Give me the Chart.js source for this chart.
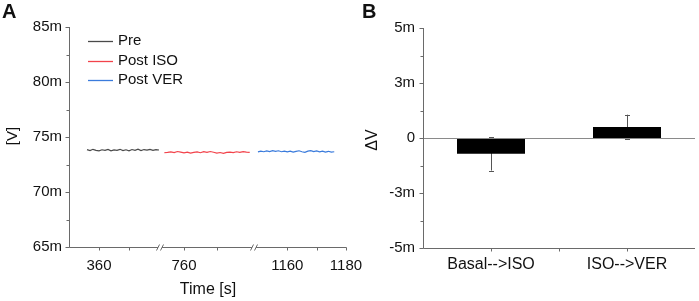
<!DOCTYPE html>
<html><head><meta charset="utf-8">
<script src="https://cdn.jsdelivr.net/npm/chart.js@4.4.1/dist/chart.umd.min.js"></script>
<style>
html,body{margin:0;padding:0;background:#fff;}
body{width:699px;height:301px;overflow:hidden;position:relative;}
#a{position:absolute;left:0;top:0;}
#b{position:absolute;left:360px;top:0;}
</style>
</head><body>
<canvas id="a" width="378" height="301"></canvas>
<canvas id="b" width="339" height="301"></canvas>
<script>
// ---------- Panel A data ----------
const preTime = [356,357,358,359,360,361,362,363,364,365,366,367,368,369,370,371,372,373,374,375,376,377,378,379,380];
const preV = [73.85,73.76,73.88,73.79,73.74,73.84,73.78,73.87,73.75,73.83,73.79,73.88,73.76,73.84,73.74,73.86,73.79,73.89,73.77,73.86,73.80,73.88,73.78,73.85,73.82];
const isoTime = [754,755,756,757,758,759,760,761,762,763,764,765,766,767,768,769,770,771,772,773,774,775,776,777,778,779,780];
const isoV = [73.57,73.60,73.65,73.58,73.68,73.62,73.55,73.62,73.53,73.60,73.65,73.57,73.66,73.60,73.68,73.61,73.54,73.59,73.52,73.60,73.63,73.58,73.66,73.61,73.67,73.62,73.60];
const verTime = [1150,1151,1152,1153,1154,1155,1156,1157,1158,1159,1160,1161,1162,1163,1164,1165,1166,1167,1168,1169,1170,1171,1172,1173,1174,1175,1176];
const verV = [73.65,73.71,73.66,73.74,73.68,73.76,73.69,73.75,73.66,73.72,73.65,73.71,73.62,73.69,73.75,73.66,73.60,73.71,73.76,73.67,73.73,73.65,73.72,73.63,73.70,73.62,73.66];
const seriesLabels = ['Pre','Post ISO','Post VER'];
const xTickLabelsA = [360,760,1160,1180];
const xMinorA = [370,770,1170];
const yTicksA = [65,70,75,80,85];

// ---------- Panel B data ----------
const categories = ['Basal-->ISO','ISO-->VER'];
const deltaMean = [-0.72,0.50];
const deltaErr = [0.76,0.56];
const yTicksB = [-5,-2.5,0,2.5,5];

// broken time axis: each segment maps a time range onto an axis-unit range
const segments = [
  {t0:350,t1:380,u0:0,u1:90},
  {t0:753,t1:781,u0:92,u1:184},
  {t0:1149,t1:1180,u0:186,u1:277}
];
function toU(t){
  for(const s of segments){ if(t>=s.t0-0.001 && t<=s.t1+0.001) return s.u0+(t-s.t0)/(s.t1-s.t0)*(s.u1-s.u0); }
  return NaN;
}
function fromU(u){
  for(const s of segments){ if(u>=s.u0-0.01 && u<=s.u1+0.01) return s.t0+(u-s.u0)/(s.u1-s.u0)*(s.t1-s.t0); }
  return NaN;
}
const breaksU = [ (segments[0].u1+segments[1].u0)/2, (segments[1].u1+segments[2].u0)/2 ];

const FONT = "'Liberation Sans', Arial, sans-serif";
const AXIS = '#6a6a6a';
const TXT = '#111';
const colors = ['#4a4a4a','#f2434b','#3a7bdc'];

function line(ctx,x1,y1,x2,y2){ctx.beginPath();ctx.moveTo(x1,y1);ctx.lineTo(x2,y2);ctx.stroke();}

const decoA = {
  id:'decoA',
  afterDraw(chart){
    const {ctx, chartArea:ca, scales:{x,y}} = chart;
    ctx.save();
    ctx.strokeStyle = AXIS; ctx.lineWidth = 1;
    const L = Math.round(ca.left)+0.5, B = Math.round(ca.bottom)+0.5;
    ctx.beginPath(); ctx.moveTo(L, Math.round(ca.top)); ctx.lineTo(L,B); ctx.lineTo(Math.round(ca.right)+0.5,B); ctx.stroke();
    yTicksA.forEach((v,i)=>{
      const py = Math.round(y.getPixelForValue(v))+0.5; line(ctx,L-4,py,L,py);
      if(i<yTicksA.length-1){ const pm = Math.round(y.getPixelForValue((v+yTicksA[i+1])/2))+0.5; line(ctx,L-3,pm,L,pm); }
    });
    xTickLabelsA.concat(xMinorA).forEach(t=>{
      const px = Math.round(x.getPixelForValue(toU(t)))+0.5; line(ctx,px,B,px,B+3);
    });
    breaksU.forEach(u=>{
      const px = x.getPixelForValue(u);
      ctx.fillStyle='#fff'; ctx.fillRect(px-2,B-1.5,4,3);
      ctx.strokeStyle=AXIS;
      line(ctx,px-3.5,B+3,px-0.5,B-3);
      line(ctx,px+0.5,B+3,px+3.5,B-3);
    });
    // legend
    ctx.font = '15px '+FONT; ctx.textBaseline='middle'; ctx.textAlign='left';
    const ly = [41,61,80];
    seriesLabels.forEach((lab,i)=>{
      ctx.strokeStyle = colors[i]; ctx.lineWidth=1.3;
      line(ctx,88,ly[i]+0.5,113,ly[i]+0.5);
      ctx.fillStyle = TXT; ctx.fillText(lab,118,ly[i]);
    });
    ctx.fillStyle = TXT;
    ctx.font = 'bold 20px '+FONT; ctx.textBaseline='alphabetic'; ctx.fillText('A',2,18);
    ctx.font = '16px '+FONT; ctx.textAlign='center'; ctx.fillText('Time [s]',208,294);
    ctx.save(); ctx.translate(17,136); ctx.rotate(-Math.PI/2);
    ctx.font='15px '+FONT; ctx.textAlign='center'; ctx.textBaseline='alphabetic'; ctx.fillText('[V]',0,0);
    ctx.restore();
    ctx.restore();
  }
};

new Chart(document.getElementById('a'), {
  type:'line',
  data:{
    datasets:[
      {label:seriesLabels[0], data:preTime.map((t,i)=>({x:toU(t),y:preV[i]})), borderColor:colors[0]},
      {label:seriesLabels[1], data:isoTime.map((t,i)=>({x:toU(t),y:isoV[i]})), borderColor:colors[1]},
      {label:seriesLabels[2], data:verTime.map((t,i)=>({x:toU(t),y:verV[i]})), borderColor:colors[2]}
    ]
  },
  options:{
    responsive:false, animation:false, devicePixelRatio:1,
    elements:{line:{borderWidth:1.2,tension:0},point:{radius:0}},
    layout:{padding:{left:0,top:27,right:32,bottom:0}},
    plugins:{legend:{display:false},tooltip:{enabled:false}},
    scales:{
      x:{type:'linear',min:0,max:segments[2].u1,
        grid:{display:false,drawTicks:false}, border:{display:false},
        afterBuildTicks(s){ s.ticks = xTickLabelsA.map(t=>({value:toU(t)})); },
        ticks:{padding:10,color:TXT,font:{family:FONT,size:15},autoSkip:false,maxRotation:0,
          callback:(v)=>String(Math.round(fromU(v)))},
        afterFit(s){ s.height = 54; }
      },
      y:{min:65,max:85,
        grid:{display:false,drawTicks:false}, border:{display:false},
        afterBuildTicks(s){ s.ticks = yTicksA.map(v=>({value:v})); },
        ticks:{padding:7,color:TXT,font:{family:FONT,size:15},callback:(v)=>v+'m'},
        afterFit(s){ s.width = 69; }
      }
    }
  },
  plugins:[decoA]
});

const decoB = {
  id:'decoB',
  beforeDatasetsDraw(chart){
    const {ctx, scales:{y}} = chart;
    ctx.save();
    const meta = chart.getDatasetMeta(0);
    ctx.strokeStyle='#555'; ctx.lineWidth=1;
    meta.data.forEach((el,i)=>{
      const px = Math.round(el.x)+0.5;
      const yHi = y.getPixelForValue(deltaMean[i]+deltaErr[i]);
      const yLo = y.getPixelForValue(deltaMean[i]-deltaErr[i]);
      line(ctx,px,yHi,px,yLo);
      line(ctx,px-2.5,Math.round(yHi)+0.5,px+2.5,Math.round(yHi)+0.5);
      line(ctx,px-2.5,Math.round(yLo)+0.5,px+2.5,Math.round(yLo)+0.5);
    });
    ctx.restore();
  },
  afterDatasetsDraw(chart){
    const {ctx, chartArea:ca, scales:{y}} = chart;
    ctx.save();
    ctx.strokeStyle = '#8a8a8a'; ctx.lineWidth=1;
    const z = Math.round(y.getPixelForValue(0))+0.5;
    line(ctx,ca.left,z,ca.right,z);
    ctx.restore();
  },
  afterDraw(chart){
    const {ctx, chartArea:ca, scales:{x,y}} = chart;
    ctx.save();
    ctx.strokeStyle = AXIS; ctx.lineWidth = 1;
    const L = Math.round(ca.left)+0.5, B = Math.round(ca.bottom)+0.5;
    ctx.beginPath(); ctx.moveTo(L, Math.round(ca.top)); ctx.lineTo(L,B); ctx.lineTo(Math.round(ca.right),B); ctx.stroke();
    yTicksB.forEach((v,i)=>{
      const py = Math.round(y.getPixelForValue(v))+0.5; line(ctx,L-4,py,L,py);
      if(i<yTicksB.length-1){ const pm = Math.round(y.getPixelForValue((v+yTicksB[i+1])/2))+0.5; line(ctx,L-3,pm,L,pm); }
    });
    categories.forEach((c,i)=>{
      const px = Math.round(x.getPixelForValue(i))+0.5; line(ctx,px,B,px,B+3);
      if(i<categories.length-1){ const pm = Math.round(x.getPixelForValue(i+0.5))+0.5; line(ctx,pm,B,pm,B+3); }
    });
    ctx.fillStyle = TXT;
    ctx.font = 'bold 20px '+FONT; ctx.textBaseline='alphabetic'; ctx.textAlign='left'; ctx.fillText('B',2,18);
    ctx.save(); ctx.translate(17,140); ctx.rotate(-Math.PI/2);
    ctx.font='16px '+FONT; ctx.textAlign='center'; ctx.fillText('\u0394V',0,0);
    ctx.restore();
    ctx.restore();
  }
};

new Chart(document.getElementById('b'), {
  type:'bar',
  data:{labels:categories, datasets:[{label:'ΔV', data:deltaMean, backgroundColor:'#000', borderWidth:0, barPercentage:0.5, categoryPercentage:1}]},
  options:{
    responsive:false, animation:false, devicePixelRatio:1,
    layout:{padding:{left:0,top:28,right:4,bottom:0}},
    plugins:{legend:{display:false},tooltip:{enabled:false}},
    scales:{
      x:{grid:{display:false,drawTicks:false}, border:{display:false},
        ticks:{padding:7,color:TXT,font:{family:FONT,size:16},maxRotation:0,autoSkip:false},
        afterFit(s){ s.height = 53; }
      },
      y:{min:-5,max:5,
        grid:{display:false,drawTicks:false}, border:{display:false},
        afterBuildTicks(s){ s.ticks = yTicksB.map(v=>({value:v})); },
        ticks:{padding:8,color:TXT,font:{family:FONT,size:15},
          callback:(v)=> v===0 ? '0' : (v<0?'-':'')+Math.round(Math.abs(v))+'m'},
        afterFit(s){ s.width = 63; }
      }
    }
  },
  plugins:[decoB]
});
</script>
</body></html>
